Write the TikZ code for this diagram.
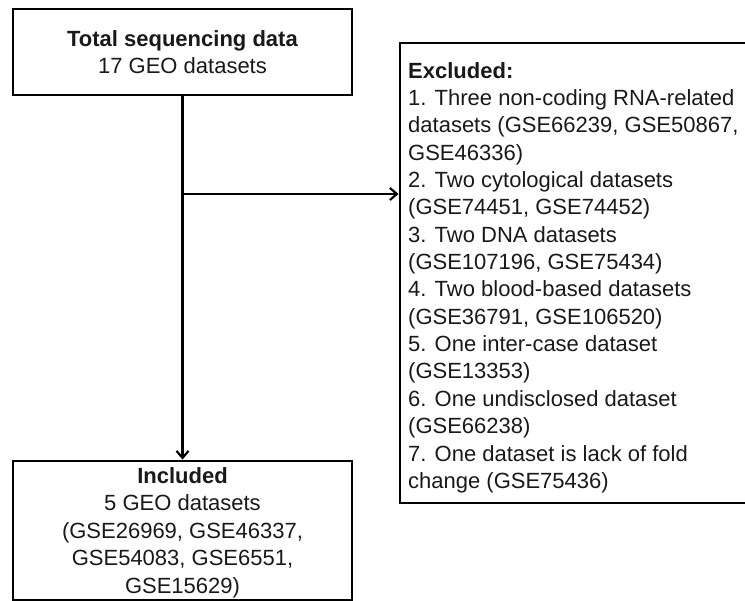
\documentclass[tikz,border=0pt]{standalone}
\usepackage{fontspec}
\setmainfont{Liberation Sans}
\usetikzlibrary{arrows.meta}
\begin{document}
\begin{tikzpicture}[x=1pt,y=-1pt,
  frame/.style={draw=black, line width=2.8pt, inner sep=0pt},
  txt/.style={inner sep=0pt, text=black!90},
  conn/.style={line width=2.2pt, -{Straight Barb[length=7pt,width=12pt]}}
]
\useasboundingbox (0,0) rectangle (745,601);
\clip (0,0) rectangle (745,601);
% frames
\node[frame, minimum width=339pt, minimum height=86pt] (total) at (182.5,52) {};
\node[frame, minimum width=360pt, minimum height=460pt] (excl) at (580,273) {};
\node[frame, minimum width=339pt, minimum height=139pt] (incl) at (182.5,530.5) {};
% texts
\node[txt, align=center, anchor=north, font=\fontsize{22}{27}\selectfont] (totaltxt) at (182.5,30)
  {\textbf{Total sequencing data}\\17 GEO datasets};
\node[txt, align=left, anchor=north west, font=\fontsize{22}{27.35}\selectfont] (excltxt) at (408,62)
  {\textbf{Excluded:}\\
   1. Three non-coding RNA-related\\
   datasets (GSE66239, GSE50867,\\
   GSE46336)\\
   2. Two cytological datasets\\
   (GSE74451, GSE74452)\\
   3. Two DNA datasets\\
   (GSE107196, GSE75434)\\
   4. Two blood-based datasets\\
   (GSE36791, GSE106520)\\
   5. One inter-case dataset\\
   (GSE13353)\\
   6. One undisclosed dataset\\
   (GSE66238)\\
   7. One dataset is lack of fold\\
   change (GSE75436)};
\node[txt, align=center, anchor=north, font=\fontsize{22}{27.5}\selectfont] (incltxt) at (182.5,467)
  {\textbf{Included}\\5 GEO datasets\\(GSE26969, GSE46337,\\GSE54083, GSE6551,\\GSE15629)};
% connectors
\coordinate (branch) at (182.5,194);
\draw[conn] (total.south) -- (incl.north);
\draw[conn] (branch) -- (branch -| excl.west);
\end{tikzpicture}
\end{document}
